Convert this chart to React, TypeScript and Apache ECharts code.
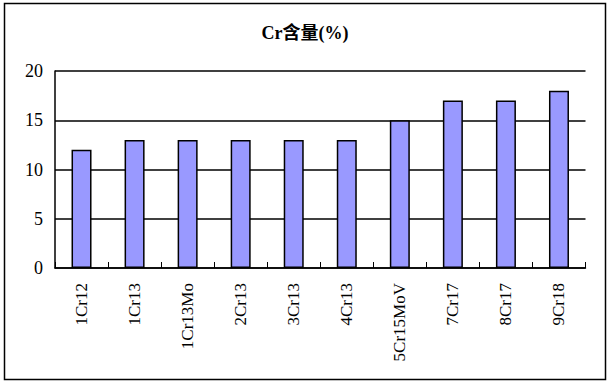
import React, { useEffect, useRef } from "react";
import * as echarts from "echarts";

const title = "Cr含量(%)";
const categories = ["1Cr12", "1Cr13", "1Cr13Mo", "2Cr13", "3Cr13", "4Cr13", "5Cr15MoV", "7Cr17", "8Cr17", "9Cr18"];
const crValues = [12, 13, 13, 13, 13, 13, 15, 17, 17, 18];
const yTicks = { min: 0, max: 20, interval: 5 };

const FONT = '"Liberation Serif", "Noto Sans CJK SC", serif';

export default function App() {
  const ref = useRef<HTMLDivElement>(null);
  useEffect(() => {
    if (!ref.current) return;
    const chart = echarts.init(ref.current, null, { renderer: "svg" });
    chart.setOption({
      animation: false,
      backgroundColor: "#ffffff",
      title: {
        text: title,
        left: "center",
        top: 19,
        textStyle: { fontFamily: FONT, fontSize: 18, fontWeight: "bold", color: "#000" },
      },
      graphic: [
        {
          type: "rect",
          shape: { x: 4.5, y: 3.5, width: 601, height: 376 },
          style: { fill: "none", stroke: "#000", lineWidth: 1.5 },
          silent: true,
        },
      ],
      grid: { left: 55, right: 24.5, top: 71, bottom: 116, containLabel: false },
      xAxis: {
        type: "category",
        data: categories,
        boundaryGap: true,
        axisLine: { show: true, lineStyle: { color: "#000", width: 1.5 } },
        axisTick: { show: true, inside: true, length: 6, alignWithLabel: false, lineStyle: { color: "#000", width: 1 } },
        axisLabel: {
          rotate: 90,
          margin: 15,
          interval: 0,
          fontFamily: FONT,
          fontSize: 17,
          color: "#000",
        },
        splitLine: { show: false },
      },
      yAxis: {
        type: "value",
        min: yTicks.min,
        max: yTicks.max,
        interval: yTicks.interval,
        axisLine: { show: true, lineStyle: { color: "#000", width: 1.5 } },
        axisTick: { show: false },
        axisLabel: { fontFamily: FONT, fontSize: 18, color: "#000", margin: 12 },
        splitLine: { show: true, lineStyle: { color: "#000", width: 1.5 } },
      },
      series: [
        {
          type: "bar",
          data: crValues,
          barWidth: 20,
          itemStyle: { color: "#9999ff", borderColor: "#000", borderWidth: 1.5 },
        },
      ],
    });
    return () => chart.dispose();
  }, []);
  return <div ref={ref} style={{ position: "absolute", left: 0, top: 0, width: 610, height: 384 }} />;
}
